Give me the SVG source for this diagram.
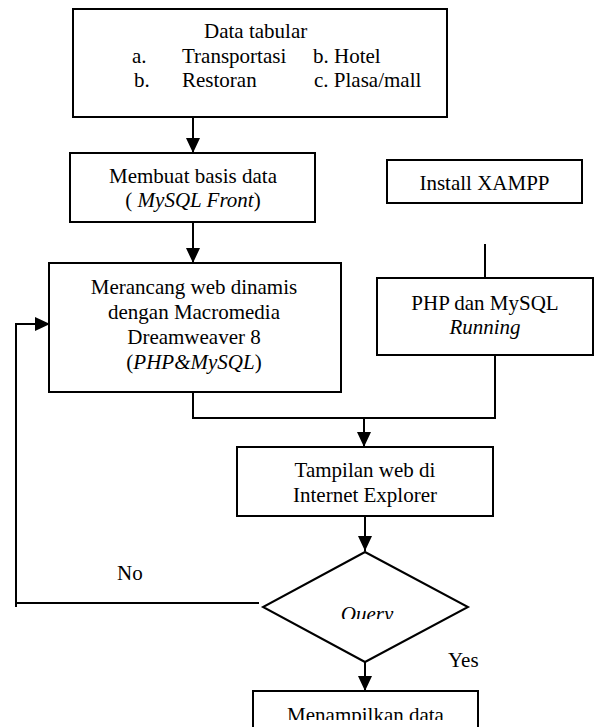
<svg xmlns="http://www.w3.org/2000/svg" width="600" height="727" viewBox="0 0 600 727">
<style>
.box{fill:#fff;stroke:#000;stroke-width:2}
.t{font-family:"Liberation Serif","Times New Roman",serif;font-size:21px;fill:#000}
.m{text-anchor:middle}
.i{font-style:italic}
.c{fill:none;stroke:#000;stroke-width:2}
</style>
<defs>
<marker id="ah" markerUnits="userSpaceOnUse" markerWidth="15" markerHeight="14" refX="15" refY="7" orient="auto">
<path d="M0,0 L15,7 L0,14 z" fill="#000"/>
</marker>
<clipPath id="clipQ"><rect x="300" y="590" width="140" height="29"/></clipPath>
<clipPath id="clipM"><rect x="260" y="695" width="210" height="25"/></clipPath>
</defs>
<rect width="600" height="727" fill="#fff"/>
<g id="connectors">
<path class="c" d="M193,117 V153" marker-end="url(#ah)"/>
<path class="c" d="M193,222 V263" marker-end="url(#ah)"/>
<path class="c" d="M485,244 V278"/>
<path class="c" d="M193,392 V418 H495 V355"/>
<path class="c" d="M364,418 V447" marker-end="url(#ah)"/>
<path class="c" d="M365,516 V551" marker-end="url(#ah)"/>
<path class="c" d="M365,662 V691" marker-end="url(#ah)"/>
<path class="c" d="M259,603 H16"/>
<path class="c" d="M16,607 V324 H50" marker-end="url(#ah)"/>
</g>
<g id="data-tabular">
<rect class="box" x="73" y="9" width="374" height="108"/>
<text class="t" x="204" y="38">Data tabular</text>
<text class="t" x="132" y="63">a.</text>
<text class="t" x="182" y="63">Transportasi</text>
<text class="t" x="313" y="63">b. Hotel</text>
<text class="t" x="134" y="87">b.</text>
<text class="t" x="182" y="87">Restoran</text>
<text class="t" x="314" y="87">c. Plasa/mall</text>
</g>
<g id="membuat-basis-data">
<rect class="box" x="70" y="153" width="245" height="69"/>
<text class="t m" x="193" y="183">Membuat basis data</text>
<text class="t m" x="193" y="207">( <tspan class="i">MySQL Front</tspan>)</text>
</g>
<g id="install-xampp">
<rect class="box" x="387" y="160" width="195" height="43"/>
<text class="t m" x="484.5" y="190">Install XAMPP</text>
</g>
<g id="merancang-web">
<rect class="box" x="49" y="263" width="292" height="129"/>
<text class="t m" x="194" y="294">Merancang web dinamis</text>
<text class="t m" x="194" y="319">dengan Macromedia</text>
<text class="t m" x="194" y="344">Dreamweaver 8</text>
<text class="t m" x="194" y="369">(<tspan class="i">PHP&amp;MySQL</tspan>)</text>
</g>
<g id="php-mysql-running">
<rect class="box" x="377" y="278" width="216" height="77"/>
<text class="t m" x="485" y="310">PHP dan MySQL</text>
<text class="t m i" x="485" y="334">Running</text>
</g>
<g id="tampilan-web">
<rect class="box" x="237" y="447" width="256" height="69"/>
<text class="t m" x="365" y="477">Tampilan web di</text>
<text class="t m" x="365" y="502">Internet Explorer</text>
</g>
<g id="query">
<polygon class="box" points="365,552 468,607 365,662 263,607"/>
<text class="t m i" x="367" y="621" clip-path="url(#clipQ)">Query</text>
</g>
<g id="label-no">
<text class="t" x="117" y="580">No</text>
</g>
<g id="label-yes">
<text class="t" x="448" y="667">Yes</text>
</g>
<g id="menampilkan-data">
<rect class="box" x="253" y="691" width="225" height="60"/>
<text class="t m" x="365.5" y="722" clip-path="url(#clipM)">Menampilkan data</text>
</g>
</svg>
